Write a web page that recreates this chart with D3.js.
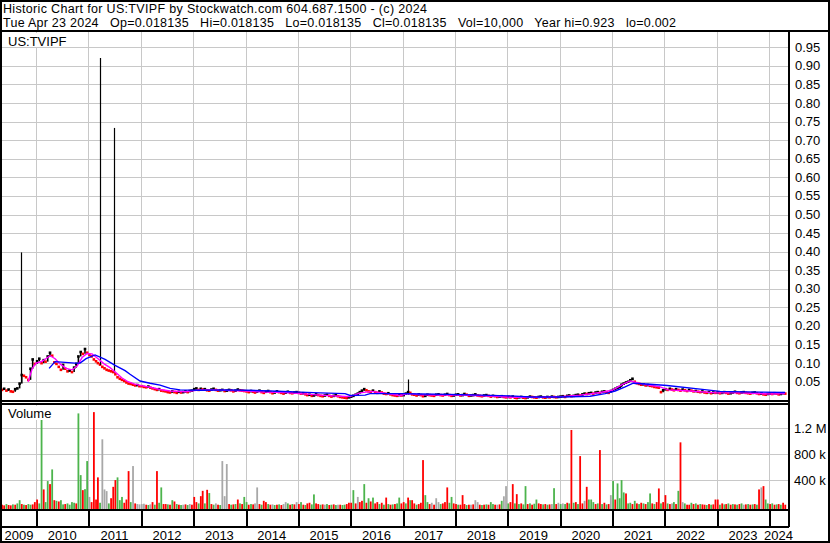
<!DOCTYPE html>
<html><head><meta charset="utf-8">
<script src="https://cdn.jsdelivr.net/npm/d3@7"></script>
<style>
body{margin:0;background:#fff}
text{font-family:"Liberation Sans",Arial,sans-serif;fill:#000}
</style>
</head><body>
<svg id="c" width="830" height="543"></svg>
<script>
// ---------------- DATA ----------------
const headerLine1 = "Historic Chart for US:TVIPF by Stockwatch.com 604.687.1500 - (c) 2024";
const headerLine2 = "Tue Apr 23 2024   Op=0.018135   Hi=0.018135   Lo=0.018135   Cl=0.018135   Vol=10,000   Year hi=0.923   lo=0.002";
const symbolLabel = "US:TVIPF";
const volumeLabel = "Volume";
const yearLabels = ["2009","2010","2011","2012","2013","2014","2015","2016","2017","2018","2019","2020","2021","2022","2023","2024"];
const priceTicks = [0.05,0.10,0.15,0.20,0.25,0.30,0.35,0.40,0.45,0.50,0.55,0.60,0.65,0.70,0.75,0.80,0.85,0.90,0.95];
const volTicks = [400,800,1200];            // thousands
const volTickLabels = ["400 k","800 k","1.2 M"];

// half-month closes, first slot = May 2009 (1st half)
const closes = [
 /*2009*/ 0.028,0.031,0.026,0.029,0.024,0.023,0.030,0.032,0.045,0.068,0.066,0.062,0.055,0.085,0.110,0.098,
 /*2010*/ 0.105,0.112,0.100,0.108,0.104,0.118,0.128,0.120,0.102,0.098,0.090,0.082,0.095,0.085,0.078,0.080,0.076,0.088,0.098,0.118,0.130,0.125,0.138,0.128,
 /*2011*/ 0.122,0.118,0.110,0.105,0.100,0.096,0.090,0.086,0.082,0.080,0.078,0.076,0.070,0.062,0.058,0.055,0.052,0.048,0.045,0.044,0.042,0.040,0.041,0.038,
 /*2012*/ 0.038,0.036,0.035,0.037,0.034,0.032,0.030,0.028,0.030,0.026,0.025,0.024,0.022,0.021,0.024,0.022,0.020,0.023,0.021,0.022,0.024,0.022,0.025,0.026,
 /*2013*/ 0.030,0.032,0.028,0.031,0.029,0.030,0.027,0.026,0.029,0.031,0.028,0.026,0.027,0.028,0.025,0.026,0.028,0.027,0.024,0.026,0.029,0.027,0.026,0.025,
 /*2014*/ 0.024,0.022,0.025,0.023,0.021,0.024,0.026,0.022,0.020,0.023,0.025,0.022,0.019,0.021,0.024,0.022,0.020,0.018,0.021,0.023,0.020,0.019,0.021,0.022,
 /*2015*/ 0.020,0.018,0.019,0.016,0.014,0.015,0.012,0.013,0.016,0.014,0.012,0.011,0.013,0.015,0.012,0.010,0.012,0.014,0.011,0.009,0.008,0.007,0.006,0.008,
 /*2016*/ 0.010,0.012,0.015,0.018,0.022,0.026,0.030,0.027,0.024,0.023,0.026,0.022,0.020,0.024,0.021,0.018,0.017,0.019,0.016,0.014,0.013,0.012,0.014,0.013,
 /*2017*/ 0.014,0.018,0.022,0.020,0.016,0.015,0.013,0.016,0.014,0.011,0.012,0.015,0.014,0.013,0.012,0.015,0.016,0.014,0.013,0.015,0.017,0.014,0.012,0.013,
 /*2018*/ 0.015,0.016,0.013,0.014,0.017,0.015,0.012,0.013,0.014,0.016,0.013,0.012,0.011,0.013,0.014,0.012,0.010,0.012,0.011,0.009,0.010,0.011,0.009,0.008,
 /*2019*/ 0.009,0.008,0.010,0.007,0.006,0.008,0.009,0.007,0.006,0.008,0.010,0.009,0.008,0.007,0.009,0.010,0.008,0.007,0.009,0.008,0.010,0.009,0.008,0.009,
 /*2020*/ 0.010,0.011,0.009,0.012,0.013,0.011,0.012,0.014,0.015,0.013,0.016,0.018,0.017,0.019,0.020,0.018,0.021,0.022,0.020,0.023,0.024,0.022,0.020,0.025,
 /*2021*/ 0.028,0.031,0.034,0.036,0.042,0.045,0.048,0.050,0.054,0.058,0.050,0.046,0.044,0.042,0.043,0.040,0.041,0.039,0.038,0.036,0.035,0.034,0.022,0.027,
 /*2022*/ 0.030,0.028,0.031,0.029,0.027,0.030,0.028,0.026,0.029,0.027,0.025,0.028,0.026,0.024,0.025,0.023,0.022,0.024,0.021,0.020,0.022,0.019,0.021,0.020,
 /*2023*/ 0.021,0.019,0.020,0.022,0.020,0.018,0.019,0.021,0.023,0.020,0.019,0.021,0.022,0.020,0.019,0.018,0.020,0.021,0.019,0.017,0.018,0.016,0.015,0.017,
 /*2024*/ 0.018,0.017,0.019,0.018,0.016,0.017,0.019,0.018
];

// intraday spikes (decimal year, low, high)
const spikeDates = [2009.704, 2011.222, 2011.490, 2017.099];
const spikeLows  = [0.047, 0.095, 0.075, 0.015];
const spikeHighs = [0.398, 0.921, 0.733, 0.056];

// short moving average (magenta)
const maShortDates = [2009.847,2009.924,2010.000,2010.115,2010.267,2010.363,2010.458,2010.573,2010.688,2010.783,2010.879,2010.974,2011.069,2011.184,2011.299,2011.413,2011.528,2011.642,2011.757,2011.872,2011.986,2012.177,2012.368,2012.559,2012.846,2013.132,2013.419,2013.705,2014.011,2014.374,2014.756,2015.042,2015.424,2015.806,2015.997,2016.188,2016.417,2016.665,2016.952,2017.105,2017.334,2017.716,2018.002,2018.384,2018.766,2019.053,2019.626,2020.008,2020.390,2020.772,2021.001,2021.192,2021.345,2021.459,2021.688,2021.918,2022.071,2022.491,2022.988,2023.446,2024.000,2024.306];
const maShortVals  = [0.050,0.085,0.100,0.105,0.120,0.112,0.098,0.086,0.082,0.092,0.115,0.126,0.125,0.112,0.098,0.088,0.074,0.060,0.050,0.044,0.040,0.035,0.029,0.025,0.023,0.028,0.028,0.026,0.025,0.022,0.021,0.018,0.014,0.011,0.010,0.020,0.024,0.019,0.013,0.018,0.015,0.014,0.015,0.013,0.011,0.008,0.008,0.010,0.014,0.021,0.027,0.042,0.052,0.048,0.041,0.036,0.028,0.025,0.020,0.020,0.017,0.018];

// long moving average (blue)
const maLongDates = [2010.248,2010.363,2010.554,2010.745,2010.840,2010.955,2011.127,2011.318,2011.509,2011.700,2011.795,2011.986,2012.177,2012.368,2012.559,2012.750,2013.132,2013.705,2014.011,2014.469,2014.851,2015.042,2015.424,2015.902,2015.997,2016.283,2016.379,2016.952,2017.334,2017.907,2018.480,2019.053,2019.435,2020.008,2020.581,2020.867,2021.058,2021.249,2021.402,2021.726,2022.051,2022.682,2023.064,2023.828,2024.306];
const maLongVals  = [0.086,0.104,0.102,0.100,0.100,0.112,0.122,0.110,0.094,0.080,0.070,0.052,0.046,0.041,0.032,0.028,0.027,0.028,0.027,0.025,0.023,0.022,0.020,0.018,0.013,0.014,0.018,0.018,0.017,0.016,0.014,0.012,0.009,0.009,0.011,0.018,0.025,0.036,0.046,0.043,0.040,0.030,0.024,0.022,0.021];

// half-month volumes (thousands), same slots as closes
const volumes = [
 /*2009*/ 20,10,30,15,10,25,20,40,90,30,20,15,30,20,25,60,
 /*2010*/ 100,40,1450,256,60,385,338,565,90,80,70,90,25,30,40,20,60,50,40,1430,477,245,260,694,
 /*2011*/ 140,60,1450,100,442,50,1030,256,230,40,120,296,400,442,90,140,50,100,539,60,617,40,30,25,
 /*2012*/ 30,35,20,15,25,60,20,539,50,287,30,30,25,20,90,70,30,20,15,20,25,15,30,20,
 /*2013*/ 140,60,40,152,234,40,250,200,30,20,40,20,15,694,152,648,30,20,25,30,100,40,30,140,
 /*2014*/ 60,20,30,25,40,287,30,20,80,60,30,20,25,15,20,25,15,30,60,40,20,30,25,60,
 /*2015*/ 30,60,20,15,40,50,25,179,40,30,20,25,20,30,15,20,25,15,20,20,15,20,30,50,
 /*2016*/ 50,245,40,140,60,80,338,50,120,70,130,40,60,30,50,20,130,30,20,25,30,40,130,40,
 /*2017*/ 60,40,130,90,90,40,20,30,50,709,168,60,30,50,20,120,60,30,40,60,287,50,140,40,
 /*2018*/ 30,20,20,168,30,15,20,20,25,90,60,20,15,20,25,20,60,30,20,20,25,80,150,307,
 /*2019*/ 40,60,338,40,183,30,40,25,307,30,40,20,35,100,40,30,25,30,20,25,30,275,30,50,
 /*2020*/ 30,40,30,50,40,1174,50,60,30,771,40,80,296,100,100,60,30,40,864,30,50,25,30,168,
 /*2021*/ 385,100,349,120,400,210,194,40,50,30,80,40,30,50,40,30,60,194,40,30,60,271,40,60,
 /*2022*/ 168,40,30,40,60,30,234,983,60,40,20,20,50,30,40,20,30,25,20,15,30,20,25,100,
 /*2023*/ 100,20,40,25,30,40,20,30,25,20,30,40,20,25,30,20,25,30,20,256,287,307,100,40,
 /*2024*/ 30,40,20,25,30,20,50,20
];
// r = down day, g = up day, k = unchanged
const volColors = (
 "rrgrrgrggrgrggrr" +
 "rggrggrgrgrggrggggrggrgg" +
 "krrrrgkkkgrrrgggrrrgkrkk" +
 "kkrgkrgrggrrgrgrgrgkrgkr" +
 "rrgrrgrgrgkrgkkkrgrgrgrg" +
 "grgrkkrgrrgrkgrgrkkgrgrk" +
 "rgrgrrggrrgrkgrgrgkrggrr" +
 "rgrkrrgrgrgrrgrgrgrgrggr" +
 "rgrgrrgrrrggrkrkkgrrrggr" +
 "rgrrrgrkrkkrgrgrggrkrgkk" +
 "grrgrgrggrgrggrrgrgrkgrk" +
 "gkgrgrgrgrrkrgggrgrgrgrk" +
 "grggggrggrgrgrgrggrgrrgr" +
 "rgrkgrgrkgrrgrgrgrrgrgrr" +
 "rgrgrgrgrgrgkrgrgrgrkrgg" +
 "rgrgrgrr").split("");

// ---------------- HELPERS ----------------
const slotDate = i => new Date(2009, 4 + Math.floor(i / 2), i % 2 ? 23 : 8);
const decDate = d => { const yr = Math.floor(d); const s = new Date(yr,0,1), e = new Date(yr+1,0,1); return new Date(+s + (d - yr) * (e - s)); };

// ---------------- SCALES ----------------
const PL = 2, PR = 788;
const x = d3.scaleTime().domain([new Date(2009,4,8), new Date(2024,4,12)]).range([PL, PR]);
const y = d3.scaleLinear().domain([0, 0.95]).range([400.3, 47.3]);
const yv = d3.scaleLinear().domain([0, 1200]).range([506, 428.3]);

const svg = d3.select("#c");
svg.append("rect").attr("width",830).attr("height",543).attr("fill","#fff");

const defs = svg.append("defs");
defs.append("clipPath").attr("id","cp").append("rect").attr("x",PL).attr("y",32).attr("width",PR-PL).attr("height",368);
defs.append("clipPath").attr("id","cv").append("rect").attr("x",PL).attr("y",405).attr("width",PR-PL).attr("height",104);

// ---------------- GRID ----------------
const grid = svg.append("g").attr("stroke","#c8c8c8").attr("stroke-width",1).attr("shape-rendering","crispEdges");
const yearBounds = yearLabels.slice(1).map(s => x(new Date(+s,0,1)));
yearBounds.forEach(xx => {
  const px = Math.round(xx) + 0.5;
  grid.append("line").attr("x1",px).attr("x2",px).attr("y1",32).attr("y2",400);
  grid.append("line").attr("x1",px).attr("x2",px).attr("y1",405).attr("y2",509);
});
priceTicks.forEach(v => {
  const py = Math.round(y(v)) + 0.5;
  grid.append("line").attr("x1",PL).attr("x2",PR).attr("y1",py).attr("y2",py);
});
volTicks.forEach(v => {
  const py = Math.round(yv(v)) + 0.5;
  grid.append("line").attr("x1",PL).attr("x2",PR).attr("y1",py).attr("y2",py);
});

// ---------------- PRICE ----------------
const pg = svg.append("g").attr("clip-path","url(#cp)");
closes.forEach((c, i) => {
  if (i > 0 && c >= closes[i-1]) {
    pg.append("line").attr("x1",x(slotDate(i))).attr("x2",x(slotDate(i)))
      .attr("y1",y(closes[i-1])).attr("y2",y(c)).attr("stroke","#000").attr("stroke-width",1.6);
  }
});
closes.forEach((c, i) => {
  const up = i > 0 && c > closes[i-1];
  pg.append("rect").attr("x",x(slotDate(i)) - 1.3).attr("y",y(c) - 1.3)
    .attr("width",2.6).attr("height",2.6).attr("fill", up ? "#000" : "#ff0000");
});
spikeDates.forEach((d, i) => {
  const px = Math.round(x(decDate(d))) + 0.5;
  pg.append("line").attr("x1",px).attr("x2",px).attr("y1",y(spikeLows[i])).attr("y2",y(spikeHighs[i]))
    .attr("stroke","#000").attr("stroke-width",1.2);
});
const line = d3.line().x(d => x(decDate(d[0]))).y(d => y(d[1]));
pg.append("path").datum(maShortDates.map((d,i)=>[d,maShortVals[i]])).attr("d",line)
  .attr("fill","none").attr("stroke","#ff00ff").attr("stroke-width",1.4);
pg.append("path").datum(maLongDates.map((d,i)=>[d,maLongVals[i]])).attr("d",line)
  .attr("fill","none").attr("stroke","#0000ff").attr("stroke-width",1.4);

// ---------------- VOLUME ----------------
const colorMap = {r:"#ff0000", g:"#4cb44c", k:"#a8a8a8"};
const vg = svg.append("g").attr("clip-path","url(#cv)");
volumes.forEach((v, i) => {
  const top = yv(v);
  vg.append("rect").attr("x", x(slotDate(i)) - 0.9).attr("y", top)
    .attr("width", 1.8).attr("height", 509 - top).attr("fill", colorMap[volColors[i]]);
});

// ---------------- LABEL BOXES ----------------
svg.append("rect").attr("x",3).attr("y",33).attr("width",64).attr("height",14).attr("fill","#fff");
svg.append("text").attr("x",8).attr("y",45.5).attr("font-size",13).text(symbolLabel);
svg.append("rect").attr("x",3).attr("y",406).attr("width",55).attr("height",14).attr("fill","#fff");
svg.append("text").attr("x",8).attr("y",418).attr("font-size",13).text(volumeLabel);

// ---------------- FRAME ----------------
const fr = svg.append("g").attr("stroke","#000").attr("shape-rendering","crispEdges");
fr.append("line").attr("x1",0).attr("x2",830).attr("y1",30.5).attr("y2",30.5).attr("stroke-width",2);
fr.append("line").attr("x1",789).attr("x2",789).attr("y1",30).attr("y2",527).attr("stroke-width",2);
fr.append("line").attr("x1",0).attr("x2",789).attr("y1",401).attr("y2",401).attr("stroke-width",1.5);
fr.append("line").attr("x1",0).attr("x2",789).attr("y1",404).attr("y2",404).attr("stroke-width",1.5);
fr.append("line").attr("x1",0).attr("x2",789).attr("y1",510).attr("y2",510).attr("stroke-width",1.5);
fr.append("line").attr("x1",0).attr("x2",789).attr("y1",527).attr("y2",527).attr("stroke-width",2.5);
yearBounds.forEach(xx => {
  fr.append("line").attr("x1",Math.round(xx)+0.5).attr("x2",Math.round(xx)+0.5).attr("y1",510).attr("y2",527).attr("stroke-width",2);
});
fr.append("rect").attr("x",1).attr("y",1).attr("width",828).attr("height",541).attr("fill","none").attr("stroke-width",2);

// ---------------- TEXT ----------------
svg.append("text").attr("x",3).attr("y",13.2).attr("font-size",12.5)
  .attr("textLength",424).attr("lengthAdjust","spacing").text(headerLine1);
svg.append("text").attr("x",3).attr("y",27).attr("font-size",12.5).style("white-space","pre")
  .attr("textLength",673).attr("lengthAdjust","spacing").text(headerLine2);

priceTicks.forEach(v => {
  svg.append("text").attr("x",795).attr("y",y(v) + 4.5).attr("font-size",13).text(d3.format(".2f")(v));
});
volTicks.forEach((v, i) => {
  svg.append("text").attr("x",794).attr("y",yv(v) + 5).attr("font-size",13).text(volTickLabels[i]);
});
const bounds = [x(new Date(2009,4,8))].concat(yearBounds).concat([PR]);
yearLabels.forEach((s, i) => {
  svg.append("text").attr("x",(bounds[i] + bounds[i+1]) / 2).attr("y",539.5)
    .attr("text-anchor","middle").attr("font-size",13).text(s);
});
</script>
</body></html>
